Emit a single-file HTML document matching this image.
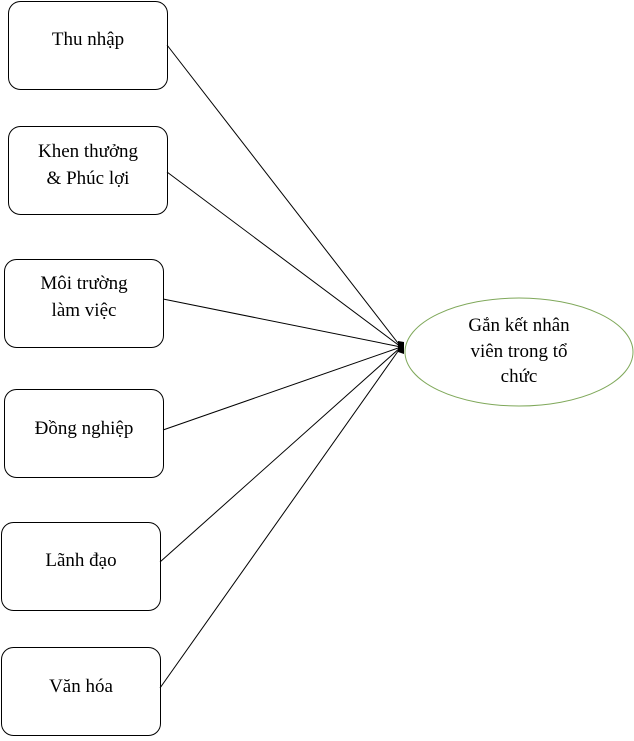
<!DOCTYPE html>
<html><head><style>body{margin:0;background:#fff}</style></head><body>
<svg width="634" height="736" xmlns="http://www.w3.org/2000/svg" font-family="Liberation Serif, serif" font-size="19">
<g fill="#fff" stroke="#000" stroke-width="1">
<rect x="8.5" y="1.5" width="159" height="88" rx="12"/>
<rect x="8.5" y="126.5" width="159" height="88" rx="12"/>
<rect x="4.5" y="259.5" width="159" height="88" rx="12"/>
<rect x="4.5" y="389.5" width="159" height="88" rx="12"/>
<rect x="1.5" y="522.5" width="159" height="88" rx="12"/>
<rect x="1.5" y="647.5" width="159" height="88" rx="12"/>
</g>
<g stroke="#000" stroke-width="1">
<line x1="167" y1="45" x2="401" y2="347"/>
<line x1="167" y1="172" x2="401" y2="347"/>
<line x1="163" y1="299" x2="401" y2="347"/>
<line x1="163" y1="430" x2="401" y2="347"/>
<line x1="160" y1="562" x2="401" y2="347"/>
<line x1="160" y1="688" x2="401" y2="347"/>
</g>
<path d="M398 341 L404 342 L404 354 L398 352 Z" fill="#000"/>
<ellipse cx="519" cy="352" rx="114" ry="54" fill="#fff" stroke="#7fa85a" stroke-width="1"/>
<g text-anchor="middle" fill="#000">
<text x="88" y="45">Thu nhập</text>
<text x="88" y="157">Khen thưởng</text>
<text x="88" y="184">&amp; Phúc lợi</text>
<text x="84" y="289">Môi trường</text>
<text x="84" y="316">làm việc</text>
<text x="84" y="434">Đồng nghiệp</text>
<text x="81" y="566">Lãnh đạo</text>
<text x="81" y="692">Văn hóa</text>
<text x="519" y="331">Gắn kết nhân</text>
<text x="519" y="357">viên trong tổ</text>
<text x="519" y="382">chức</text>
</g>
</svg>
</body></html>
